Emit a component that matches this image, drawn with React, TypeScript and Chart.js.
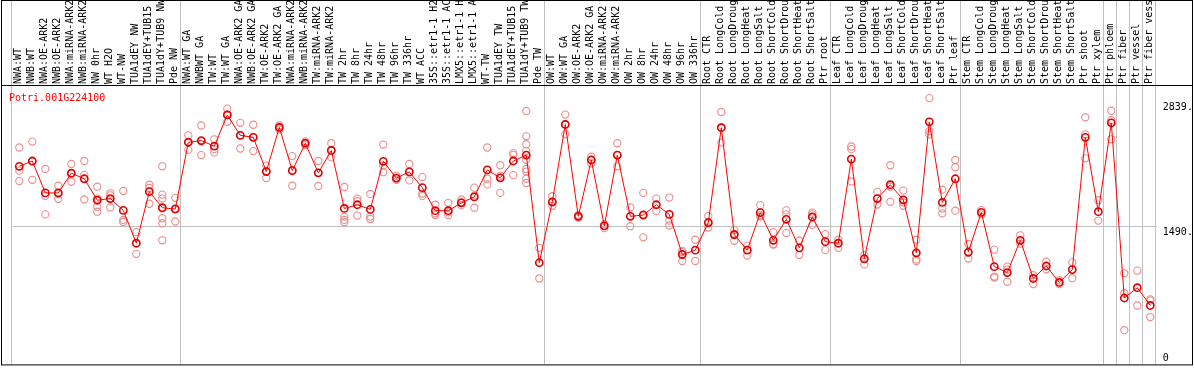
import React, { useEffect, useRef } from 'react';
import { Chart, registerables } from 'chart.js';

Chart.register(...registerables);

const geneId = 'Potri.001G224100';

const categories = [
  'NWA:WT', 'NWB:WT', 'NWA:OE-ARK2', 'NWB:OE-ARK2', 'NWA:miRNA-ARK2', 'NWB:miRNA-ARK2',
  'NW 0hr', 'WT H2O', 'WT-NW', 'TUA1dEY NW', 'TUA1dEY+TUB15 NW', 'TUA1dY+TUB9 NW', 'Pde NW',
  'NWA:WT GA', 'NWBWT GA', 'TW:WT', 'TW:WT GA', 'NWA:OE-ARK2 GA', 'NWB:OE-ARK2 GA',
  'TW:OE-ARK2', 'TW:OE-ARK2 GA', 'NWA:miRNA-ARK2 GA', 'NWB:miRNA-ARK2 GA', 'TW:miRNA-ARK2',
  'TW:miRNA-ARK2 GA', 'TW 2hr', 'TW 8hr', 'TW 24hr', 'TW 48hr', 'TW 96hr', 'TW 336hr',
  'WT ACC', '35S::etr1-1 H2O', '35S::etr1-1 ACC', 'LMX5::etr1-1 H2O', 'LMX5::etr1-1 ACC',
  'WT-TW', 'TUA1dEY TW', 'TUA1dEY+TUB15 TW', 'TUA1dY+TUB9 TW', 'Pde TW',
  'OW:WT', 'OW:WT GA', 'OW:OE-ARK2', 'OW:OE-ARK2 GA', 'OW:miRNA-ARK2', 'OW:miRNA-ARK2 GA',
  'OW 2hr', 'OW 8hr', 'OW 24hr', 'OW 48hr', 'OW 96hr', 'OW 336hr',
  'Root CTR', 'Root LongCold', 'Root LongDrought', 'Root LongHeat', 'Root LongSalt',
  'Root ShortCold', 'Root ShortDrought', 'Root ShortHeat', 'Root ShortSalt', 'Ptr root',
  'Leaf CTR', 'Leaf LongCold', 'Leaf LongDrought', 'Leaf LongHeat', 'Leaf LongSalt',
  'Leaf ShortCold', 'Leaf ShortDrought', 'Leaf ShortHeat', 'Leaf ShortSalt', 'Ptr leaf',
  'Stem CTR', 'Stem LongCold', 'Stem LongDrought', 'Stem LongHeat', 'Stem LongSalt',
  'Stem ShortCold', 'Stem ShortDrought', 'Stem ShortHeat', 'Stem ShortSalt',
  'Ptr shoot', 'Ptr xylem', 'Ptr phloem', 'Ptr fiber', 'Ptr vessel', 'Ptr fiber vessel',
];

const meanValues = [
  2142, 2199, 1854, 1854, 2068, 2007, 1775, 1793, 1665, 1310,
  1868, 1694, 1679, 2402, 2420, 2359, 2697, 2476, 2455, 2085,
  2562, 2095, 2391, 2071, 2313, 1686, 1726, 1676, 2196, 2014,
  2081, 1911, 1662, 1662, 1747, 1811, 2103, 2017, 2199, 2263,
  1099, 1758, 2594, 1601, 2210, 1498, 2263, 1601, 1615, 1726,
  1622, 1188, 1235, 1534, 2559, 1402, 1235, 1641, 1342, 1569,
  1260, 1594, 1327, 1310, 2220, 1142, 1793, 1943, 1779, 1206,
  2623, 1751, 2007, 1214, 1644, 1057, 993, 1342, 929, 1064,
  886, 1025, 2455, 1651, 2612, 718, 829, 637,
];

const replicateValues: number[][] = [
  [2345, 2095, 1982], [2409, 2194, 1996], [2113, 1822, 1622], [1932, 1841, 1790],
  [2167, 2060, 1975], [2199, 2049, 1783], [1921, 1793, 1705, 1651], [1850, 1828, 1697],
  [1875, 1562, 1540], [1430, 1195], [1943, 1907, 1737],
  [2142, 1836, 1793, 1686, 1580, 1526, 1342], [1801, 1686, 1545],
  [2476, 2402, 2319], [2583, 2412, 2263], [2434, 2327, 2292], [2765, 2701, 2623],
  [2612, 2476, 2334], [2591, 2455, 2306], [2149, 2092, 2014], [2583, 2562, 2540],
  [2252, 2103, 1932], [2412, 2391, 2370], [2199, 2071, 1929], [2391, 2316, 2238],
  [1918, 1598, 1562, 1537], [1793, 1764, 1609], [1843, 1598, 1572], [2377, 2149, 2078],
  [2039, 2012, 1996], [2167, 2081, 1989], [2025, 1847, 1822], [1726, 1633, 1615],
  [1747, 1644, 1615], [1783, 1751, 1722], [1911, 1825, 1694], [2345, 2007, 1946],
  [2153, 2039, 1854], [2284, 2266, 2046],
  [2740, 2466, 2380, 2309, 2213, 2113, 2085, 2007, 1961], [1260, 929],
  [1818, 1751, 1715], [2701, 2594, 2487], [1617, 1601, 1585], [2245, 2210, 2174],
  [1516, 1473], [2391, 2263, 2142], [1697, 1494], [1854, 1622, 1374], [1793, 1658],
  [1804, 1555, 1502], [1228, 1214, 1118], [1348, 1118],
  [1604, 1526, 1480], [2729, 2562, 2398], [1452, 1412, 1337], [1284, 1238, 1177],
  [1722, 1612, 1598], [1430, 1302, 1295], [1665, 1622, 1420], [1337, 1182],
  [1641, 1622, 1508], [1409, 1235],
  [1348, 1260], [2356, 2327, 1978], [1182, 1081], [1865, 1729], [2153, 1921, 1758],
  [1879, 1751, 1715], [1348, 1135, 1118], [2879, 2522, 2487], [1889, 1686, 1633],
  [2210, 2132, 1662],
  [1302, 1206, 1145], [1668, 1622], [1241, 950, 939], [1057, 1025, 893], [1395, 1305],
  [964, 868], [1110, 1028], [910, 868], [1103, 932],
  [2672, 2487, 2228], [1775, 1555], [2743, 2640, 2434], [985, 769, 370], [1014, 637],
  [704, 690, 512],
];

const yTickValues = [0, 1490, 2839];
const yMax = 3010;
// index of the last category of each group (group separators)
const groupEnds = [12, 40, 52, 62, 72, 83, 84, 85, 86, 87];

const MONO = '"DejaVu Sans Mono", monospace';

const framePlugin = {
  id: 'frame',
  beforeDatasetsDraw(chart: any) {
    const { ctx, chartArea } = chart;
    const xs = chart.scales.x;
    const ys = chart.scales.y;
    ctx.save();
    ctx.lineWidth = 1;
    ctx.strokeStyle = '#c0c0c0';
    const lines = [xs.getPixelForValue(0) - 8.3, ...groupEnds.map((i) => xs.getPixelForValue(i) + 4.7)];
    lines.forEach((px) => {
      const p = Math.round(px) + 0.5;
      ctx.beginPath();
      ctx.moveTo(p, 0);
      ctx.lineTo(p, chartArea.bottom);
      ctx.stroke();
    });
    ctx.strokeStyle = '#000';
    ctx.strokeRect(1.5, 0.5, 1191, chartArea.bottom);
    ctx.beginPath();
    ctx.moveTo(1.5, Math.round(chartArea.top) - 0.5);
    ctx.lineTo(1192.5, Math.round(chartArea.top) - 0.5);
    ctx.stroke();

    ctx.font = '10px ' + MONO;
    ctx.fillStyle = '#ff0000';
    ctx.textAlign = 'left';
    ctx.textBaseline = 'alphabetic';
    ctx.fillText(geneId, 9, chartArea.top + 14.5);

    ctx.fillStyle = '#000';
    yTickValues.forEach((v) => {
      const py = ys.getPixelForValue(v);
      const label = v === 0 ? '0' : v + '.';
      ctx.fillText(label, chartArea.right + 6, v === 0 ? py - 3 : py + 8.5);
    });
    ctx.restore();
  },
};

export default function App() {
  const ref = useRef<HTMLCanvasElement | null>(null);
  useEffect(() => {
    document.body.style.margin = '0';
    if (!ref.current) return;
    const replicatePoints = replicateValues.flatMap((arr, i) =>
      arr.map((v) => ({ x: categories[i], y: v }))
    );
    const chart = new Chart(ref.current, {
      type: 'line',
      data: {
        labels: categories,
        datasets: [
          {
            label: 'mean',
            data: meanValues,
            borderColor: '#ff0000',
            borderWidth: 1,
            tension: 0,
            pointRadius: 3.6,
            pointBorderWidth: 1.6,
            pointBorderColor: '#e00000',
            pointBackgroundColor: 'rgba(0,0,0,0)',
          },
          {
            label: 'replicates',
            data: replicatePoints as any,
            showLine: false,
            pointRadius: 3.6,
            pointBorderWidth: 1.1,
            pointBorderColor: 'rgb(236,140,140)',
            pointBackgroundColor: 'rgba(0,0,0,0)',
          },
        ],
      },
      options: {
        animation: false,
        responsive: false,
        events: [],
        layout: { padding: { left: 12.8, right: 0, top: 0, bottom: 2 } },
        plugins: { legend: { display: false }, tooltip: { enabled: false } },
        scales: {
          x: {
            type: 'category',
            position: 'top',
            offset: true,
            grid: { display: false, drawTicks: false },
            border: { display: false },
            ticks: {
              autoSkip: false,
              minRotation: 90,
              maxRotation: 90,
              padding: 2,
              labelOffset: 11,
              color: '#000',
              font: { family: MONO, size: 10 },
            },
            afterFit: (s: any) => {
              s.height = 86;
            },
          },
          y: {
            type: 'linear',
            position: 'right',
            min: 0,
            max: yMax,
            afterBuildTicks: (s: any) => {
              s.ticks = yTickValues.map((v) => ({ value: v }));
            },
            grid: {
              drawTicks: false,
              color: (c: any) => (c.tick && c.tick.value === yTickValues[1] ? '#c0c0c0' : 'rgba(0,0,0,0)'),
            },
            border: { display: false },
            ticks: { display: false },
            afterFit: (s: any) => {
              s.width = 37.2;
            },
          },
        },
      },
      plugins: [framePlugin],
    });
    return () => chart.destroy();
  }, []);
  return (
    <div style={{ width: 1194, height: 370 }}>
      <canvas ref={ref} width={1194} height={370} />
    </div>
  );
}
